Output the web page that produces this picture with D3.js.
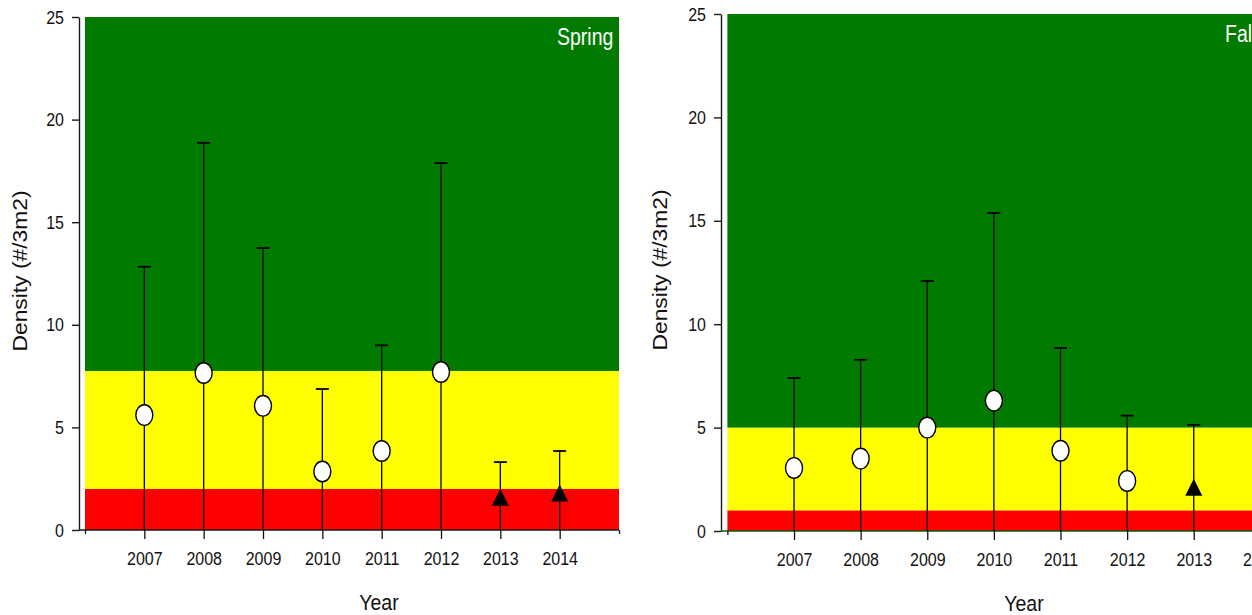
<!DOCTYPE html>
<html>
<head>
<meta charset="utf-8">
<script src="https://cdn.jsdelivr.net/npm/d3@7/dist/d3.min.js"></script>
<style>
  html, body { margin: 0; padding: 0; background: #fff; }
  svg { display: block; }
  text { font-family: "Liberation Sans", Arial, sans-serif; fill: #111; }
</style>
</head>
<body>
<svg id="chart" width="1252" height="615"></svg>
<script>
// Spring survey: yearly mean density with upper/lower error limits
const springYears = [2007, 2008, 2009, 2010, 2011, 2012, 2013, 2014];
const springMean  = [5.6, 7.65, 6.05, 2.85, 3.85, 7.7, 1.6, 1.8];
const springUpper = [12.83, 18.87, 13.74, 6.87, 9.0, 17.88, 3.31, 3.85];
const springLower = [0, 0, 0, 0, 0, 0, 0, 0];
// marker type per year: circle = earlier method, triangle = later method
const springMarker = ["circle", "circle", "circle", "circle", "circle", "circle", "triangle", "triangle"];

// Fall survey
const fallYears  = [2007, 2008, 2009, 2010, 2011, 2012, 2013];
const fallMean   = [3.05, 3.5, 5.0, 6.3, 3.88, 2.42, 2.12];
const fallUpper  = [7.4, 8.28, 12.09, 15.38, 8.85, 5.58, 5.13];
const fallLower  = [0, 0, 0, 0, 0, 0, 0];
const fallMarker = ["circle", "circle", "circle", "circle", "circle", "circle", "triangle"];

// Condition bands: [from, to]
const springBands = [[0, 2, "red"], [2, 7.75, "yellow"], [7.75, 25, "green"]];
const fallBands   = [[0, 1, "red"], [1, 5, "yellow"], [5, 25, "green"]];

const tickYears = [2007, 2008, 2009, 2010, 2011, 2012, 2013, 2014];
const yTicks = [0, 5, 10, 15, 20, 25];
const xDomain = [2006, 2015];
const yDomain = [0, 25];

const bandColor = { red: "#ff0000", yellow: "#ffff00", green: "#007b00" };

const svg = d3.select("#chart");

function panel(opts) {
  const g = svg.append("g");
  const x = d3.scaleLinear().domain(xDomain).range([opts.left, opts.right]);
  const y = d3.scaleLinear().domain(yDomain).range([opts.bottom, opts.top]);

  // background condition bands
  g.append("g").selectAll("rect").data(opts.bands).join("rect")
    .attr("x", x(xDomain[0]))
    .attr("width", x(xDomain[1]) - x(xDomain[0]))
    .attr("y", d => y(d[1]))
    .attr("height", d => y(d[0]) - y(d[1]))
    .attr("fill", d => bandColor[d[2]]);

  // y axis, offset to the left of the plot area
  const ya = g.append("g")
    .attr("transform", `translate(${opts.yAxisX},0)`)
    .call(d3.axisLeft(y).tickValues(yTicks).tickSize(7).tickSizeOuter(0).tickPadding(8));
  ya.select(".domain").attr("stroke", "#1a1a1a").attr("stroke-width", 1.4);
  ya.selectAll(".tick line").attr("stroke", "#1a1a1a").attr("stroke-width", 1.4);
  ya.selectAll(".tick text")
    .attr("font-size", 16).attr("font-family", "Liberation Sans, Arial, sans-serif")
    .attr("fill", "#111")
    .attr("dy", "0.35em")
    .attr("transform", "scale(1,1.1)")
    .attr("y", 0);

  // x axis
  if (opts.xLine) {
    g.append("line")
      .attr("x1", opts.yAxisX).attr("x2", x(xDomain[1]))
      .attr("y1", y(0)).attr("y2", y(0))
      .attr("stroke", opts.xLine).attr("stroke-width", 1.4);
  }
  const xa = g.append("g")
    .attr("transform", `translate(0,${y(0)})`)
    .call(d3.axisBottom(x).tickValues(tickYears).tickFormat(d3.format("d")).tickSize(9).tickSizeOuter(0));
  xa.select(".domain").remove();
  xa.selectAll(".tick line").attr("stroke", "#111").attr("stroke-width", 1.3);
  xa.selectAll(".tick text")
    .attr("font-size", 16).attr("font-family", "Liberation Sans, Arial, sans-serif")
    .attr("fill", "#111")
    .attr("y", 29 / 1.12).attr("dy", "0.35em")
    .attr("transform", "scale(1,1.12)");
  // short end ticks at the edges of the plot area
  const xe = g.append("g")
    .attr("transform", `translate(0,${y(0)})`)
    .call(d3.axisBottom(x).tickValues(xDomain).tickFormat("").tickSize(4).tickSizeOuter(0));
  xe.select(".domain").remove();
  xe.selectAll(".tick line").attr("stroke", "#111").attr("stroke-width", 1.3);

  // error bars
  const rows = opts.years.map((yr, i) => ({
    yr, mean: opts.mean[i], up: opts.upper[i], lo: opts.lower[i], m: opts.marker[i]
  }));
  const eb = g.append("g").attr("stroke", "#000").attr("stroke-width", 1.3);
  eb.selectAll("line.v").data(rows).join("line").attr("class", "v")
    .attr("x1", d => x(d.yr)).attr("x2", d => x(d.yr))
    .attr("y1", d => y(d.lo)).attr("y2", d => y(d.up));
  eb.selectAll("line.cap").data(rows).join("line").attr("class", "cap")
    .attr("x1", d => x(d.yr) - 6.5).attr("x2", d => x(d.yr) + 6.5)
    .attr("y1", d => y(d.up)).attr("y2", d => y(d.up))
    .attr("stroke-width", 1.8);

  // markers
  g.append("g").selectAll("ellipse").data(rows.filter(d => d.m === "circle")).join("ellipse")
    .attr("cx", d => x(d.yr)).attr("cy", d => y(d.mean))
    .attr("rx", 8.5).attr("ry", 10.3)
    .attr("fill", "#fff").attr("stroke", "#000").attr("stroke-width", 1.4);
  g.append("g").selectAll("path").data(rows.filter(d => d.m === "triangle")).join("path")
    .attr("d", d => {
      const cx = x(d.yr), cy = y(d.mean);
      return `M${cx - 8.5},${cy + 8.5}L${cx + 8.5},${cy + 8.5}L${cx},${cy - 8.5}Z`;
    })
    .attr("fill", "#000");

  // season label
  g.append("text")
    .attr("transform", `translate(${opts.seasonX},${opts.seasonY}) scale(1,1.25)`)
    .attr("text-anchor", "start")
    .attr("font-size", 19.5)
    .style("fill", "#fff")
    .text(opts.season);

  // axis titles
  g.append("text")
    .attr("transform", `translate(${opts.yTitleX},${opts.yTitleY}) scale(1,1.17) rotate(-90)`)
    .attr("text-anchor", "middle").attr("dy", "0.35em")
    .attr("font-size", 19.5)
    .text("Density (#/3m2)");
  g.append("text")
    .attr("transform", `translate(${opts.xTitleX},${opts.xTitleY}) scale(1,1.15)`)
    .attr("text-anchor", "middle").attr("dy", "0.35em")
    .attr("font-size", 19.5)
    .text("Year");
}

panel({
  left: 85, right: 619, top: 17, bottom: 530, yAxisX: 79,
  bands: springBands, years: springYears, mean: springMean,
  upper: springUpper, lower: springLower, marker: springMarker,
  season: "Spring", seasonX: 557, seasonY: 45, xLine: "#1a1a1a",
  yTitleX: 20, yTitleY: 271, xTitleX: 379, xTitleY: 602
});

panel({
  left: 727.4, right: 1327, top: 14, bottom: 531, yAxisX: 721,
  bands: fallBands, years: fallYears, mean: fallMean,
  upper: fallUpper, lower: fallLower, marker: fallMarker,
  season: "Fall", seasonX: 1225, seasonY: 42, xLine: "#0a5a0a",
  yTitleX: 660.5, yTitleY: 270, xTitleX: 1024, xTitleY: 603
});
</script>
</body>
</html>
